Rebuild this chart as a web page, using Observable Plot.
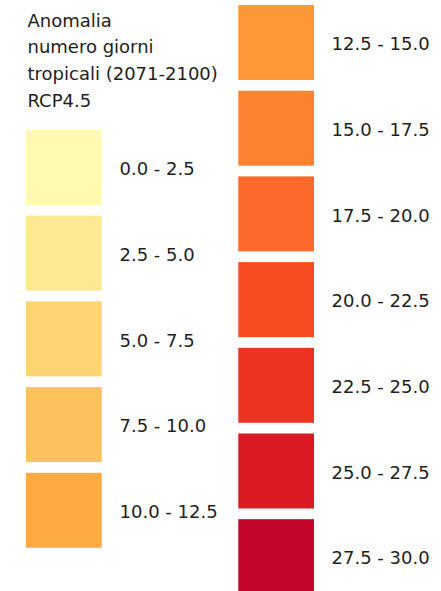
<!DOCTYPE html>
<html>
<head>
<meta charset="utf-8">
<script src="https://cdn.jsdelivr.net/npm/d3@7"></script>
<script src="https://cdn.jsdelivr.net/npm/@observablehq/plot@0.6"></script>
<style>
  html, body { margin: 0; padding: 0; background: #ffffff; }
  #chart svg { display: block; }
</style>
</head>
<body>
<div id="chart"></div>
<script>
const titleLines = ["Anomalia", "numero giorni", "tropicali (2071-2100)", "RCP4.5"];
const classLabels = [
  "0.0 - 2.5", "2.5 - 5.0", "5.0 - 7.5", "7.5 - 10.0", "10.0 - 12.5",
  "12.5 - 15.0", "15.0 - 17.5", "17.5 - 20.0", "20.0 - 22.5",
  "22.5 - 25.0", "25.0 - 27.5", "27.5 - 30.0"
];
const classColors = [
  "#fffab0", "#fee891", "#fed472", "#fdc15e", "#fdaa45",
  "#fd9738", "#fc8231", "#fb6a2b", "#f84b22",
  "#ec3220", "#da1b23", "#c3052b"
];

// layout (not data)
const W = 441, H = 591;
const leftCount = 5;
const colX = [26, 238.3];
const colY0 = [130, 5];
const step = 85.7, sw = 75.7, sh = 75;
const labelX = [119, 331];

const items = classLabels.map((label, i) => {
  const col = i < leftCount ? 0 : 1;
  const row = col === 0 ? i : i - leftCount;
  return {label, color: classColors[i], col, row};
});
const titleItems = titleLines.map((t, i) => ({t, i}));

const plot = Plot.plot({
  width: W,
  height: H,
  margin: 0,
  x: {domain: [0, W], range: [0, W], axis: null},
  y: {domain: [0, H], range: [0, H], axis: null},
  color: {type: "identity"},
  style: {background: "#ffffff"},
  marks: [
    Plot.rect(items, {
      x1: d => colX[d.col],
      x2: d => colX[d.col] + sw,
      y1: d => colY0[d.col] + d.row * step,
      y2: d => colY0[d.col] + d.row * step + sh,
      fill: d => d.color,
      inset: 0
    }),
    Plot.text(items, {
      x: d => labelX[d.col],
      y: d => colY0[d.col] + d.row * step + sh / 2 + 1.5,
      text: d => d.label,
      textAnchor: "start",
      fontSize: 18,
      fontFamily: "DejaVu Sans",
      fill: "#1e1e1e"
    }),
    Plot.text(titleItems, {
      x: 27,
      y: d => 20.5 + d.i * 26.7,
      text: d => d.t,
      textAnchor: "start",
      fontSize: 18,
      fontFamily: "DejaVu Sans",
      fill: "#1e1e1e"
    })
  ]
});
document.getElementById("chart").appendChild(plot);
</script>
</body>
</html>
